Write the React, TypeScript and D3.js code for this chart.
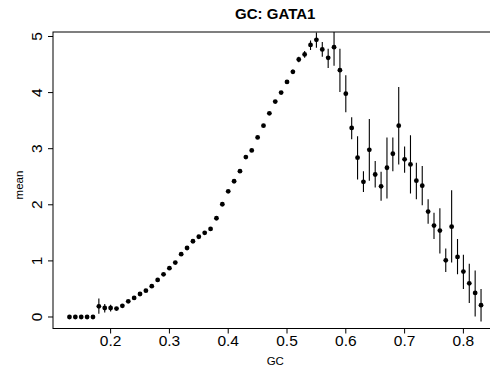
import React from "react";
import * as d3 from "d3";

// GC content bins
const gc = [
  0.13, 0.14, 0.15, 0.16, 0.17, 0.18, 0.19, 0.2, 0.21, 0.22,
  0.23, 0.24, 0.25, 0.26, 0.27, 0.28, 0.29, 0.3, 0.31, 0.32,
  0.33, 0.34, 0.35, 0.36, 0.37, 0.38, 0.39, 0.4, 0.41, 0.42,
  0.43, 0.44, 0.45, 0.46, 0.47, 0.48, 0.49, 0.5, 0.51, 0.52,
  0.53, 0.54, 0.55, 0.56, 0.57, 0.58, 0.59, 0.6, 0.61, 0.62,
  0.63, 0.64, 0.65, 0.66, 0.67, 0.68, 0.69, 0.7, 0.71, 0.72,
  0.73, 0.74, 0.75, 0.76, 0.77, 0.78, 0.79, 0.8, 0.81, 0.82,
  0.83,
];

// mean signal per bin
const mean = [
  0, 0, 0, 0, 0, 0.19, 0.16, 0.16, 0.15, 0.2,
  0.28, 0.34, 0.41, 0.47, 0.55, 0.66, 0.76, 0.87, 0.97, 1.12,
  1.23, 1.35, 1.43, 1.5, 1.57, 1.76, 2.01, 2.24, 2.42, 2.6,
  2.85, 2.97, 3.2, 3.41, 3.63, 3.84, 4.0, 4.19, 4.37, 4.59,
  4.68, 4.85, 4.94, 4.77, 4.62, 4.81, 4.4, 3.98, 3.37, 2.84,
  2.41, 2.98, 2.54, 2.33, 2.66, 2.91, 3.41, 2.81, 2.72, 2.43,
  2.34, 1.88, 1.63, 1.54, 1.01, 1.61, 1.07, 0.81, 0.6, 0.43,
  0.21,
];

// lower end of each interval
const lower = [
  0, 0, 0, 0, 0, 0.06, 0.08, 0.1, 0.12, 0.18,
  0.26, 0.32, 0.39, 0.45, 0.53, 0.64, 0.74, 0.85, 0.95, 1.1,
  1.21, 1.33, 1.41, 1.48, 1.55, 1.74, 1.99, 2.22, 2.4, 2.58,
  2.83, 2.95, 3.18, 3.39, 3.61, 3.81, 3.97, 4.16, 4.33, 4.54,
  4.62, 4.76, 4.8, 4.64, 4.44, 4.48, 4.01, 3.65, 3.17, 2.45,
  2.23, 2.43, 2.31, 2.07, 2.11, 2.6, 2.72, 2.57, 2.2, 2.1,
  1.99, 1.66, 1.39, 1.13, 0.8, 0.97, 0.76, 0.5, 0.25, 0.01,
  -0.08,
];

// upper end of each interval
const upper = [
  0, 0, 0, 0, 0, 0.33, 0.23, 0.22, 0.18, 0.22,
  0.3, 0.36, 0.43, 0.49, 0.57, 0.68, 0.78, 0.89, 0.99, 1.14,
  1.25, 1.37, 1.45, 1.52, 1.59, 1.78, 2.03, 2.26, 2.44, 2.62,
  2.87, 2.99, 3.22, 3.43, 3.65, 3.87, 4.03, 4.22, 4.41, 4.64,
  4.74, 4.93, 5.07, 4.9, 4.78, 5.14, 4.78, 4.31, 3.56, 3.22,
  2.6, 3.53, 2.78, 2.59, 3.2, 3.2, 4.1, 3.04, 3.24, 2.75,
  2.69, 2.1, 1.86, 1.94, 1.22, 2.26, 1.39, 1.11, 0.95, 0.83,
  0.5,
];

const xTicks = [0.2, 0.3, 0.4, 0.5, 0.6, 0.7, 0.8];
const yTicks = [0, 1, 2, 3, 4, 5];

const W = 490;
const H = 369;
const left = 53;
const right = 497.5;
const top = 32;
const bottom = 328.5;
const font = "'Liberation Sans', Arial, Helvetica, sans-serif";

export default function App() {
  const x = d3.scaleLinear().domain([0.102, 0.858]).range([left, right]);
  const y = d3.scaleLinear().domain([-0.205, 5.08]).range([bottom, top]);

  return (
    <svg
      width={W}
      height={H}
      style={{ position: "absolute", left: 0, top: 0, background: "#fff" }}
      fontFamily={font}
    >
      <defs>
        <clipPath id="plotArea">
          <rect x={left} y={top} width={right - left} height={bottom - top} />
        </clipPath>
      </defs>
      <rect x={0} y={0} width={W} height={H} fill="#fff" />

      <text
        x={(left + right) / 2}
        y={19}
        textAnchor="middle"
        fontSize={15}
        fontWeight="bold"
      >
        GC: GATA1
      </text>

      <g clipPath="url(#plotArea)">
        {gc.map((g, i) =>
          upper[i] - lower[i] > 0 ? (
            <line
              key={"e" + i}
              x1={x(g)}
              x2={x(g)}
              y1={y(lower[i])}
              y2={y(upper[i])}
              stroke="#000"
              strokeWidth={1.1}
            />
          ) : null
        )}
        {gc.map((g, i) => (
          <circle key={"p" + i} cx={x(g)} cy={y(mean[i])} r={2.4} fill="#000" />
        ))}
      </g>

      <rect
        x={left}
        y={top}
        width={right - left}
        height={bottom - top}
        fill="none"
        stroke="#000"
        strokeWidth={1}
      />

      {xTicks.map((t) => (
        <g key={"x" + t}>
          <line x1={x(t)} x2={x(t)} y1={bottom} y2={bottom + 5} stroke="#000" />
          <text x={x(t)} y={345.5} textAnchor="middle" fontSize={15.5}>
            {t.toFixed(1)}
          </text>
        </g>
      ))}

      {yTicks.map((t) => (
        <g key={"y" + t}>
          <line x1={left - 5} x2={left} y1={y(t)} y2={y(t)} stroke="#000" />
          <text
            transform={`translate(41.5,${y(t)}) rotate(-90)`}
            textAnchor="middle"
            fontSize={15.5}
          >
            {t}
          </text>
        </g>
      ))}

      <text x={(left + right) / 2} y={365} textAnchor="middle" fontSize={11.5}>
        GC
      </text>
      <text
        transform={`translate(23,185) rotate(-90)`}
        textAnchor="middle"
        fontSize={11.5}
      >
        mean
      </text>
    </svg>
  );
}
